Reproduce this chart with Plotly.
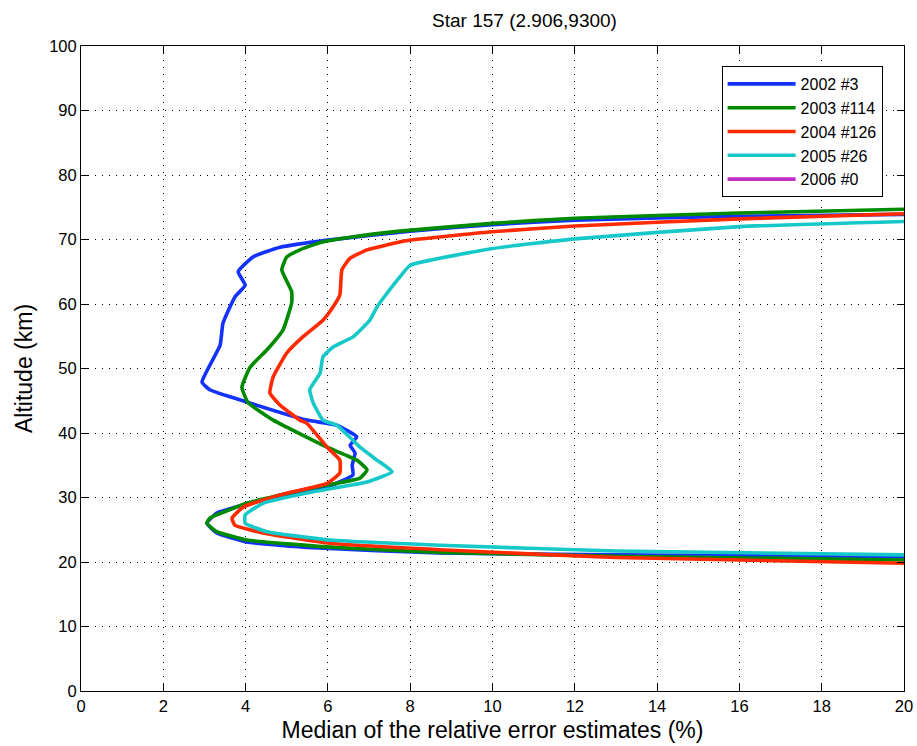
import plotly.graph_objects as go

# Altitude (km) and median relative error (%)
alt_2002 = [73.9, 73.6, 73.0, 72.3, 71.3, 69.9, 68.8, 67.3, 65.0, 62.9, 61.1, 57.0, 53.6, 47.9, 46.7,
            44.8, 42.0, 41.2, 39.4, 38.1, 36.9, 35.0, 33.5, 31.6, 29.6, 27.6, 26.0, 24.5, 23.1, 22.2,
            21.4, 21.1, 20.8]
err_2002 = [20, 16, 12, 10, 8, 6.0, 4.84, 4.18, 3.82, 3.99, 3.74, 3.45, 3.38, 2.94, 3.13,
            4.03, 5.49, 6.22, 6.7, 6.54, 6.66, 6.59, 6.61, 5.98, 4.42, 3.3, 3.06, 3.3, 4.03, 5.64,
            8.72, 13, 20]

alt_2003 = [74.7, 74.1, 73.3, 72.5, 71.3, 70.3, 69.5, 68.4, 67.3, 65.3, 61.9, 60.2, 56.0, 52.9, 50.2,
            47.1, 44.7, 42.0, 40.9, 37.8, 35.8, 34.3, 33.0, 31.5, 29.1, 26.8, 26.0, 24.7, 23.4, 22.3,
            21.5, 20.9, 20.3]
err_2003 = [20, 16, 12, 10, 7.75, 6.5, 5.8, 5.32, 5.0, 4.88, 5.12, 5.12, 4.91, 4.52, 4.11,
            3.91, 4.06, 4.67, 5.0, 5.98, 6.7, 6.95, 6.78, 5.64, 4.03, 3.13, 3.06, 3.3, 4.03, 6.05,
            8.72, 13, 20]

alt_2004 = [74.0, 73.2, 72.1, 71.2, 69.8, 68.4, 67.1, 65.3, 61.4, 59.5, 57.5, 54.9, 52.4, 48.7, 46.2,
            44.3, 42.0, 41.5, 37.8, 35.8, 33.8, 32.2, 30.4, 28.5, 26.8, 25.7, 24.5, 22.9, 21.9, 20.7,
            19.8]
err_2004 = [20, 16, 12, 10, 7.9, 6.95, 6.54, 6.34, 6.29, 6.12, 5.88, 5.39, 5.0, 4.67, 4.59,
            4.84, 5.32, 5.49, 5.98, 6.29, 6.29, 5.98, 4.84, 3.94, 3.67, 3.74, 4.42, 6.05, 8.72, 13,
            20]

alt_2005 = [72.8, 72.0, 70.1, 68.6, 66.0, 64.2, 61.7, 59.5, 57.5, 54.9, 53.3, 51.8, 49.3, 46.7, 44.7,
            42.0, 41.2, 37.8, 35.8, 34.0, 32.4, 30.9, 29.1, 27.3, 26.0, 24.7, 23.4, 22.6, 21.7, 21.1]
err_2005 = [20, 16, 12, 10, 8.0, 7.75, 7.44, 7.19, 7.02, 6.61, 6.12, 5.88, 5.81, 5.56, 5.64,
            5.88, 6.22, 6.78, 7.19, 7.56, 6.95, 5.64, 4.42, 3.99, 3.99, 4.52, 6.05, 8.72, 13, 20]

# no profiles for 2006 (legend entry only)
alt_2006 = [None]
err_2006 = [None]

series = [
    ("2002 #3", err_2002, alt_2002, "#1432ff"),
    ("2003 #114", err_2003, alt_2003, "#008a00"),
    ("2004 #126", err_2004, alt_2004, "#ff2a00"),
    ("2005 #26", err_2005, alt_2005, "#16c8c8"),
    ("2006 #0", err_2006, alt_2006, "#c030c8"),
]

FONT = "Liberation Sans, Arial, sans-serif"

fig = go.Figure()
for name, xs, ys, color in series:
    fig.add_trace(go.Scatter(
        x=xs, y=ys, mode="lines", name=name,
        line=dict(color=color, width=3.6, shape="spline", smoothing=0.4),
    ))

axis_common = dict(
    showline=True, linecolor="black", linewidth=1, mirror="ticks",
    ticks="inside", ticklen=7, tickcolor="black",
    showgrid=True, gridcolor="black", gridwidth=1.3, griddash="1px,6px",
    zeroline=False, automargin=False,
    tickfont=dict(size=16.5, color="black", family=FONT),
)

fig.update_xaxes(range=[0, 20], dtick=2, **axis_common,
                 title=dict(text="Median of the relative error estimates (%)",
                            font=dict(size=23, family=FONT, color="black"), standoff=8))
fig.update_yaxes(range=[0, 100], dtick=10, **axis_common,
                 title=dict(text="Altitude (km)",
                            font=dict(size=23, family=FONT, color="black"), standoff=10))

fig.update_layout(
    width=917, height=746,
    margin=dict(l=81, r=13, t=46, b=55, autoexpand=False),
    paper_bgcolor="white", plot_bgcolor="white",
    title=dict(text="Star 157 (2.906,9300)", x=0.572, xanchor="center", y=0.973, yanchor="middle",
               font=dict(size=19, family=FONT, color="black"), automargin=False),
    font=dict(family=FONT, color="black"),
    legend=dict(x=0.974, y=0.969, xanchor="right", yanchor="top",
                bgcolor="white", bordercolor="black", borderwidth=1,
                font=dict(size=16, family=FONT, color="black"),
                tracegroupgap=0, itemwidth=68),
    showlegend=True,
)

# drop the default page margin so the figure sits at the window's top-left corner
fig.write_html("out.html", config={"displayModeBar": False},
               post_script="document.body.style.margin='0';document.body.style.overflow='hidden';")
